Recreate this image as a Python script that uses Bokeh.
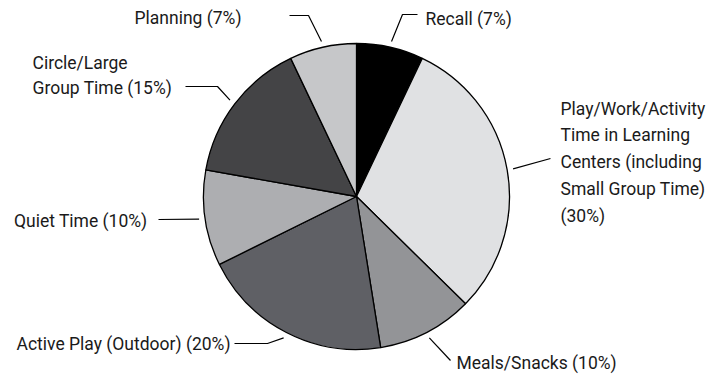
import math

from bokeh.core.properties import value
from bokeh.embed import file_html
from bokeh.models import Range1d
from bokeh.plotting import figure
from bokeh.resources import INLINE

# Daily schedule breakdown (percent of the day)
categories = [
    "Recall",
    "Play/Work/Activity Time in Learning Centers (including Small Group Time)",
    "Meals/Snacks",
    "Active Play (Outdoor)",
    "Quiet Time",
    "Circle/Large Group Time",
    "Planning",
]
percents = [7, 30, 10, 20, 10, 15, 7]
colors = ["#000000", "#e0e1e3", "#939497", "#5f6065", "#adaeb1", "#444446", "#c6c7c9"]
label_lines = [
    ["Recall (7%)"],
    ["Play/Work/Activity", "Time in Learning", "Centers (including", "Small Group Time)", "(30%)"],
    ["Meals/Snacks (10%)"],
    ["Active Play (Outdoor) (20%)"],
    ["Quiet Time (10%)"],
    ["Circle/Large", "Group Time (15%)"],
    ["Planning (7%)"],
]

W, H = 713, 374
CX, CY = 356, 196          # pie centre, in page pixels (y down)
R = 153                    # pie radius
R_LEAD = 159               # where leader lines begin

# label layout: anchor x, first-line y, alignment, line step,
# and the leader's bend/end points (page pixels)
layout = [
    dict(x=425, y=18, align="left", step=0, leader=[(402, 14), (417, 14)]),
    dict(x=560, y=108, align="left", step=26.8, leader=[(550, 158)]),
    dict(x=456, y=362, align="left", step=0, leader=[(450, 360)]),
    dict(x=230, y=343, align="right", step=0, leader=[(267, 343), (234, 343)]),
    dict(x=147, y=220, align="right", step=0, leader=[(158, 219)]),
    dict(x=32, y=62, align="left", step=25, leader=[(217, 86), (185, 86)]),
    dict(x=241, y=17, align="right", step=0, leader=[(308, 15), (289, 15)]),
]

FONT = value("Roboto")
FONT_SIZE = "17.5px"


def fy(y):
    """Page pixel y (down) -> data y (up)."""
    return H - y


p = figure(width=W, height=H, output_backend="svg", toolbar_location=None,
           x_range=Range1d(0, W), y_range=Range1d(0, H),
           min_border=0, outline_line_color=None)
p.axis.visible = False
p.xgrid.visible = False
p.ygrid.visible = False
p.background_fill_color = "white"
p.border_fill_color = "white"

total = float(sum(percents))
starts, ends, mids = [], [], []
acc = 0.0
for v in percents:
    a0 = acc / total * 2 * math.pi
    acc += v
    a1 = acc / total * 2 * math.pi
    starts.append(a0)
    ends.append(a1)
    mids.append((a0 + a1) / 2)

# slices run clockwise from 12 o'clock
p.wedge(x=[CX] * len(percents), y=[fy(CY)] * len(percents), radius=R,
        radius_units="screen",
        start_angle=[math.pi / 2 - a for a in starts],
        end_angle=[math.pi / 2 - a for a in ends],
        direction="clock", fill_color=colors,
        line_color="black", line_width=1.3)

for i, lines in enumerate(label_lines):
    lay = layout[i]
    th = mids[i]
    sx = CX + R_LEAD * math.sin(th)
    sy = CY - R_LEAD * math.cos(th)
    pts = [(sx, sy)] + lay["leader"]
    p.line([q[0] for q in pts], [fy(q[1]) for q in pts],
           line_color="black", line_width=1.2)
    ys = [fy(lay["y"] + k * lay["step"]) for k in range(len(lines))]
    p.text(x=[lay["x"]] * len(lines), y=ys, text=lines,
           text_font=FONT, text_font_size=FONT_SIZE,
           text_align=lay["align"], text_baseline="middle",
           text_color="#1a1a1a")

open("out.html", "w").write(file_html(p, INLINE))
